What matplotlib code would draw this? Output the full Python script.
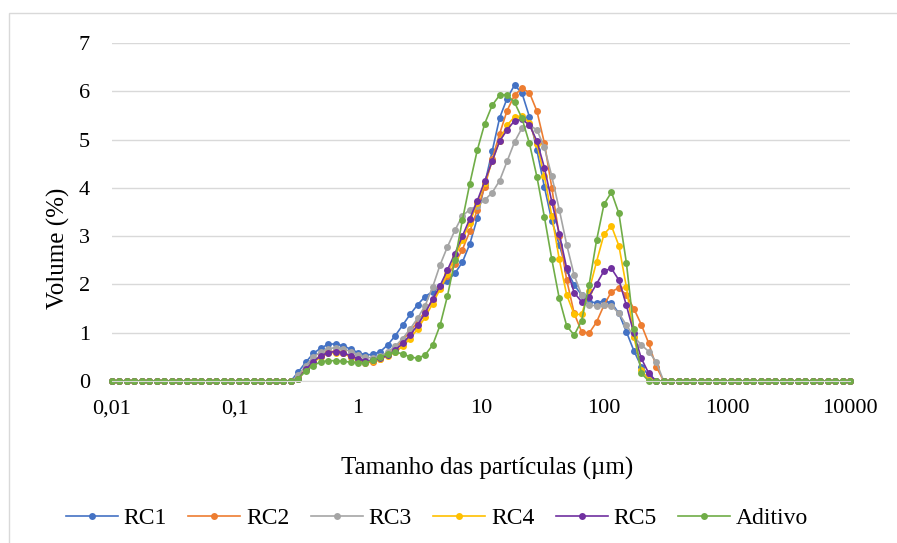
import numpy as np
import matplotlib.pyplot as plt
from matplotlib.patches import Rectangle
from matplotlib.ticker import NullLocator

plt.rcParams["font.family"] = ["Liberation Serif", "DejaVu Serif"]

# classes de tamanho do granulometro (100 pontos log, 0,01 a 10000 um)
tamanho = np.logspace(-2, 4, 100)

# zeros antes de 0,3 um e depois de ~300 um
antes = [0] * 25
depois = [0] * 26

rc1 = antes + [
    0.19, 0.39, 0.57, 0.68, 0.76, 0.77, 0.73, 0.66, 0.59, 0.54,
    0.55, 0.61, 0.75, 0.94, 1.16, 1.38, 1.58, 1.75, 1.85, 1.96,
    2.08, 2.23, 2.46, 2.84, 3.37, 4.08, 4.76, 5.45, 5.85, 6.13,
    5.96, 5.47, 4.78, 4.02, 3.32, 2.82, 2.30, 1.99, 1.78, 1.64,
    1.62, 1.66, 1.62, 1.40, 1.02, 0.63, 0.30, 0.12, 0] + depois

rc2 = antes + [
    0.08, 0.25, 0.42, 0.53, 0.60, 0.62, 0.58, 0.50, 0.43, 0.38,
    0.39, 0.45, 0.55, 0.68, 0.84, 1.03, 1.22, 1.45, 1.68, 1.92,
    2.17, 2.43, 2.72, 3.10, 3.54, 4.02, 4.60, 5.12, 5.60, 5.92,
    6.06, 5.97, 5.59, 4.93, 4.00, 3.00, 2.09, 1.40, 1.02, 0.99,
    1.22, 1.57, 1.85, 1.93, 1.78, 1.50, 1.17, 0.78, 0.30] + depois

rc3 = antes + [
    0.12, 0.32, 0.50, 0.60, 0.67, 0.69, 0.67, 0.61, 0.54, 0.49,
    0.48, 0.52, 0.60, 0.72, 0.88, 1.08, 1.30, 1.56, 1.94, 2.40,
    2.78, 3.12, 3.42, 3.55, 3.63, 3.75, 3.90, 4.15, 4.55, 4.95,
    5.24, 5.30, 5.20, 4.84, 4.24, 3.55, 2.82, 2.19, 1.78, 1.57,
    1.56, 1.57, 1.56, 1.40, 1.16, 0.92, 0.75, 0.61, 0.40] + depois

rc4 = antes + [
    0.05, 0.22, 0.38, 0.50, 0.57, 0.59, 0.57, 0.50, 0.44, 0.40,
    0.41, 0.45, 0.52, 0.60, 0.72, 0.88, 1.08, 1.32, 1.60, 1.90,
    2.22, 2.56, 2.92, 3.28, 3.68, 4.10, 4.55, 4.98, 5.30, 5.47,
    5.49, 5.35, 4.90, 4.24, 3.42, 2.52, 1.78, 1.38, 1.38, 1.87,
    2.47, 3.04, 3.21, 2.80, 1.95, 0.92, 0.23, 0.03, 0] + depois

rc5 = antes + [
    0.05, 0.24, 0.40, 0.52, 0.59, 0.61, 0.59, 0.52, 0.46, 0.42,
    0.43, 0.47, 0.53, 0.64, 0.78, 0.95, 1.16, 1.41, 1.69, 1.97,
    2.30, 2.64, 3.00, 3.36, 3.73, 4.14, 4.55, 4.97, 5.20, 5.39,
    5.42, 5.30, 4.97, 4.42, 3.71, 3.05, 2.33, 1.83, 1.64, 1.75,
    2.01, 2.28, 2.33, 2.09, 1.57, 0.99, 0.47, 0.16, 0] + depois

aditivo = antes + [
    0.05, 0.21, 0.32, 0.40, 0.42, 0.42, 0.41, 0.39, 0.38, 0.38,
    0.43, 0.50, 0.56, 0.60, 0.56, 0.50, 0.47, 0.54, 0.74, 1.15,
    1.76, 2.50, 3.33, 4.09, 4.78, 5.33, 5.71, 5.92, 5.93, 5.77,
    5.44, 4.92, 4.23, 3.40, 2.52, 1.71, 1.14, 0.95, 1.25, 1.99,
    2.91, 3.66, 3.91, 3.47, 2.45, 1.07, 0.16, 0, 0] + depois

series = [("RC1", rc1, "#4472C4"), ("RC2", rc2, "#ED7D31"),
          ("RC3", rc3, "#A5A5A5"), ("RC4", rc4, "#FFC000"),
          ("RC5", rc5, "#7030A0"), ("Aditivo", aditivo, "#70AD47")]

xticks = [0.01, 0.1, 1, 10, 100, 1000, 10000]
xticklabels = ["0,01", "0,1", "1", "10", "100", "1000", "10000"]

fig = plt.figure(figsize=(8.97, 5.43), dpi=100)
ax = fig.add_axes([112/897, 1-381/543, 738/897, 338/543])

for nome, y, cor in series:
    ax.plot(tamanho, y, "-o", color=cor, lw=1.2, ms=5, mew=0,
            label=nome, clip_on=False)

ax.set_xscale("log")
ax.set_xlim(0.01, 10000)
ax.set_ylim(0, 7)
ax.set_xticks(xticks)
ax.set_xticklabels(xticklabels)
ax.xaxis.set_minor_locator(NullLocator())
ax.set_yticks(range(8))
ax.tick_params(length=0, labelsize=16)
ax.tick_params(axis="y", pad=16)
ax.tick_params(axis="x", pad=13)

ax.yaxis.grid(True, color="#d9d9d9", lw=1)
ax.set_axisbelow(True)
for s in ["top", "right", "left"]:
    ax.spines[s].set_visible(False)
ax.spines["bottom"].set_color("#d9d9d9")

fig.text(58/897, 1-248/543, "Volume (%)", rotation=90,
         ha="center", va="center", fontsize=18)
fig.text(487/897, 1-468/543, "Tamanho das partículas (µm)",
         ha="center", va="center", fontsize=18)

fig.legend(ncol=6, loc="center", bbox_to_anchor=(437/897, 1-518/543),
           frameon=False, fontsize=17, handlelength=2.2,
           handletextpad=0.25, columnspacing=0.9)

# borda do grafico
fig.add_artist(Rectangle((9/897, -0.05), 1.0, 1-13/543+0.05,
                         transform=fig.transFigure, fill=False,
                         edgecolor="#d9d9d9", lw=1))

fig.savefig("out.png", dpi=100)
